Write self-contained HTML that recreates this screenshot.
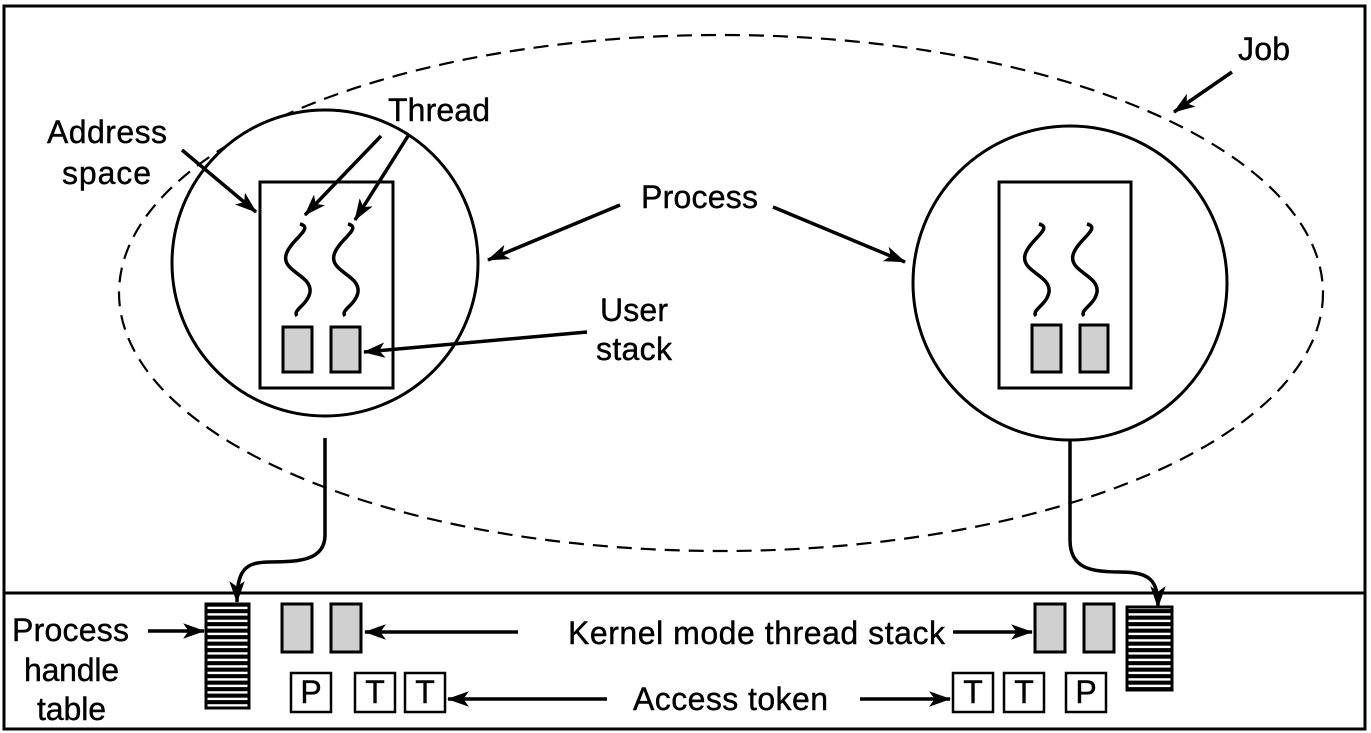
<!DOCTYPE html>
<html><head><meta charset="utf-8"><style>
html,body{margin:0;padding:0;background:#fff}
svg{display:block}
text{font-family:"Liberation Sans",Arial,sans-serif;font-size:32px;fill:#000;stroke:#000;stroke-width:0.4}
</style></head><body>
<svg width="1371" height="733" viewBox="0 0 1371 733" xmlns="http://www.w3.org/2000/svg">
<defs>
<marker id="a" viewBox="0 0 20 14" refX="19" refY="7" markerWidth="22" markerHeight="16" markerUnits="userSpaceOnUse" orient="auto">
<path d="M0,0 L20,7 L0,14 L5,7 Z" fill="#000"/></marker>
<pattern id="st" width="10" height="6.5" patternUnits="userSpaceOnUse"><rect width="10" height="6.5" fill="#000"/><rect y="2.2" width="10" height="2.4" fill="#fff"/></pattern>
<path id="w" d="M0,0 C15,4 -10,16 -14,31 C-18,48 12,51 10,68 C8,81 -8,86 -3,92" fill="none" stroke="#000" stroke-width="3.5"/>
</defs>
<rect x="4" y="6" width="1361" height="723" fill="none" stroke="#000" stroke-width="3"/>
<line x1="4" y1="593" x2="1365" y2="593" stroke="#000" stroke-width="3"/>
<ellipse cx="721" cy="293" rx="602" ry="258" fill="none" stroke="#000" stroke-width="2.2" stroke-dasharray="15,9"/>
<g fill="#fff" stroke="#000" stroke-width="3">
<circle cx="325" cy="263" r="153"/>
<circle cx="1070" cy="283" r="157"/>
<rect x="260" y="182" width="133" height="206"/>
<rect x="999" y="182" width="132" height="206"/>
</g>
<use href="#w" x="300" y="224"/>
<use href="#w" x="348" y="224"/>
<use href="#w" x="1039" y="224"/>
<use href="#w" x="1087" y="224"/>
<g fill="#d0d0d0" stroke="#000" stroke-width="3">
<rect x="283" y="327" width="29" height="45"/><rect x="331" y="327" width="29" height="45"/>
<rect x="1032" y="325" width="29" height="47"/><rect x="1080" y="325" width="28" height="47"/>
<rect x="282" y="604" width="30" height="48"/><rect x="331" y="604" width="30" height="48"/>
<rect x="1035" y="604" width="30" height="48"/><rect x="1084" y="604" width="30" height="48"/>
</g>
<g stroke="#000" stroke-width="3">
<rect x="206" y="604" width="43" height="104" fill="url(#st)"/>
<rect x="1127" y="607" width="45" height="83" fill="url(#st)"/>
</g>
<g fill="#fff" stroke="#000" stroke-width="2.5">
<rect x="291" y="673" width="40" height="39"/><rect x="355" y="673" width="40" height="39"/><rect x="405" y="673" width="40" height="39"/>
<rect x="953" y="673" width="40" height="39"/><rect x="1004" y="673" width="40" height="39"/><rect x="1066" y="673" width="40" height="39"/>
</g>
<g text-anchor="middle" style="font-size:27px">
<text x="311" y="703">P</text><text x="375" y="703">T</text><text x="425" y="703">T</text>
<text x="973" y="703">T</text><text x="1024" y="703">T</text><text x="1086" y="703">P</text>
</g>
<g fill="none" stroke="#000" stroke-width="3.5" marker-end="url(#a)">
<path d="M325,438 L325,535 C325,560 300,562 270,562 C245,562 237,570 237,602"/>
<path d="M1070,440 L1070,540 C1070,568 1090,572 1120,572 C1150,572 1158,580 1158,607"/>
<line x1="1232" y1="72" x2="1174" y2="112"/>
<line x1="182" y1="150" x2="256" y2="212"/>
<line x1="381" y1="136" x2="305" y2="215"/>
<line x1="408" y1="136" x2="355" y2="220"/>
<line x1="620" y1="205" x2="488" y2="260"/>
<line x1="773" y1="207" x2="905" y2="262"/>
<line x1="587" y1="332" x2="364" y2="352"/>
<line x1="148" y1="631" x2="204" y2="631"/>
<line x1="518" y1="632" x2="365" y2="632"/>
<line x1="953" y1="632" x2="1032" y2="632"/>
<line x1="607" y1="699" x2="448" y2="699"/>
<line x1="860" y1="699" x2="950" y2="699"/>
</g>
<text x="1238" y="60" textLength="52">Job</text>
<text x="388" y="121" textLength="102">Thread</text>
<text x="47" y="143" textLength="120">Address</text>
<text x="62" y="184" textLength="89">space</text>
<text x="641" y="208" textLength="117">Process</text>
<text x="600" y="321" textLength="68">User</text>
<text x="596" y="360" textLength="76">stack</text>
<text x="12" y="641" textLength="117">Process</text>
<text x="24" y="681" textLength="95">handle</text>
<text x="37" y="720" textLength="69">table</text>
<text x="568" y="644" textLength="377">Kernel mode thread stack</text>
<text x="633" y="710" textLength="195">Access token</text>
</svg>
</body></html>
